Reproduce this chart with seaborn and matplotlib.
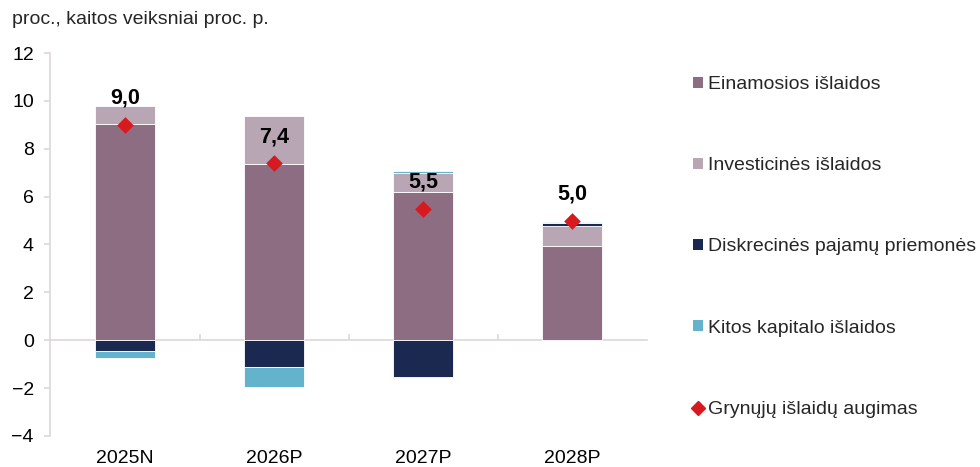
import numpy as np
import matplotlib
matplotlib.use("Agg")
import matplotlib.pyplot as plt
from matplotlib.patches import Patch
from matplotlib.lines import Line2D
import seaborn as sns

# duomenys
metai = ["2025N", "2026P", "2027P", "2028P"]
einamosios = [9.02, 7.35, 6.18, 3.94]
investicines = [0.77, 2.0, 0.8, 0.83]
diskrecines = [-0.45, -1.11, -1.53, 0.13]
kitos_kapitalo = [-0.3, -0.84, 0.1, 0.05]
grynuju_augimas = [9.0, 7.4, 5.5, 5.0]
etiketes = ["9,0", "7,4", "5,5", "5,0"]

serijos = [
    ("Einamosios išlaidos", einamosios, "#8C6D82"),
    ("Investicinės išlaidos", investicines, "#B9A6B5"),
    ("Diskrecinės pajamų priemonės", diskrecines, "#1B2850"),
    ("Kitos kapitalo išlaidos", kitos_kapitalo, "#63B3CC"),
]

sns.set_theme(style="white")
plt.rcParams["font.family"] = ["Liberation Sans", "DejaVu Sans"]

fig = plt.figure(figsize=(9.8, 4.67), dpi=100)
ax = fig.add_axes([0.0515, 0.0664, 0.6085, 0.8201])

pos_bottom = np.zeros(len(metai))
neg_bottom = np.zeros(len(metai))
for name, vals, col in serijos:
    vals = np.array(vals)
    bottom = np.where(vals >= 0, pos_bottom, neg_bottom)
    sns.barplot(x=metai, y=vals, bottom=bottom, color=col, width=0.4,
                edgecolor="white", linewidth=0.6, saturation=1, ax=ax)
    pos_bottom = pos_bottom + np.where(vals >= 0, vals, 0)
    neg_bottom = neg_bottom + np.where(vals < 0, vals, 0)

sns.stripplot(x=metai, y=grynuju_augimas, marker="D", jitter=False, size=8.5,
              color="#D71920", linewidth=0, ax=ax, zorder=5)

for i, (v, t) in enumerate(zip(grynuju_augimas, etiketes)):
    ax.text(i, v + 1.1, t, ha="center", va="center", fontsize=15.5,
            fontweight="bold", color="black")

ax.set_ylim(-4, 12)
ax.set_xlim(-0.5, 3.5)
ax.set_yticks(range(-4, 13, 2))
ax.set_xlabel("")
ax.set_ylabel("")

gray = "#DDD7DC"
for s in ["top", "right", "bottom"]:
    ax.spines[s].set_visible(False)
ax.spines["left"].set_color(gray)
ax.spines["left"].set_linewidth(1.2)
ax.tick_params(axis="y", which="major", left=True, length=4, width=1.2,
               color=gray, labelsize=14, labelcolor="black", pad=8)
ax.tick_params(axis="x", length=0, labelsize=14, labelcolor="black", pad=10)

# nulinė linija su žymomis tarp kategorijų
sec = ax.secondary_xaxis(0.25)
sec.set_xticks([0.5, 1.5, 2.5])
sec.set_xticklabels([])
sec.spines["bottom"].set_color(gray)
sec.spines["bottom"].set_linewidth(1.2)
sec.tick_params(direction="in", length=4, width=1.2, color=gray)

fig.text(0.012, 1 - 20 / 467, "proc., kaitos veiksniai proc. p.",
         fontsize=14, va="center", ha="left")

handles = [Patch(facecolor=c, edgecolor="none") for _, _, c in serijos]
handles.append(Line2D([], [], marker="D", linestyle="none", color="#D71920",
                      markersize=7))
labels = [n for n, _, _ in serijos] + ["Grynųjų išlaidų augimas"]
fig.legend(handles, labels, loc="upper left", bbox_to_anchor=(0.707, 0.837),
           frameon=False, fontsize=14, handlelength=0.5, handleheight=0.5,
           handletextpad=0.26, labelspacing=3.3, borderaxespad=0,
           borderpad=0)

fig.savefig("out.png", dpi=100)
